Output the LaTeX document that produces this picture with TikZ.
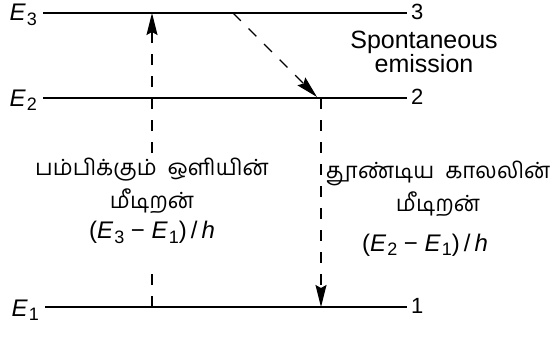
\documentclass[tikz,border=0pt]{standalone}
\usepackage{fontspec}
\setmainfont{Liberation Sans}
\newfontfamily\tamilfont[Script=Tamil]{Hind Madurai}
\usetikzlibrary{arrows.meta}
\tikzset{
  level/.style={line width=1.5pt},
  trans/.style={line width=1.4pt, dash pattern=on 11pt off 11pt, -{Stealth[length=22pt,width=11pt,inset=3pt]}},
  lbl/.style={font=\fontsize{24}{24}\selectfont, inner sep=0pt},
  num/.style={font=\fontsize{22}{24}\selectfont, inner sep=0pt, anchor=west},
  tam/.style={font=\tamilfont\fontsize{22.3}{33}\selectfont, align=center, inner sep=1pt},
}
\newcommand{\En}[1]{\textit{E}\kern1pt\raisebox{-0.35ex}{\fontsize{18}{18}\selectfont #1}}
\newcommand{\latin}{\normalfont\fontsize{24}{24}\selectfont}
\begin{document}
\begin{tikzpicture}[x=1pt,y=-1pt]
\useasboundingbox (0,0) rectangle (555,338);
% level end points
\coordinate (a3) at (43,13);  \coordinate (b3) at (407,13);
\coordinate (a2) at (43,98);  \coordinate (b2) at (407,98);
\coordinate (a1) at (45,307); \coordinate (b1) at (407,307);
\draw[level] (a3) -- (b3);
\draw[level] (a2) -- (b2);
\draw[level] (a1) -- (b1);
\node[lbl, anchor=east] (l3) at (37,15) {\En{3}};
\node[lbl, anchor=east] (l2) at (37,100) {\En{2}};
\node[lbl, anchor=east] (l1) at (39,310) {\En{1}};
\node[num] (n3) at (411,12) {3};
\node[num] (n2) at (411,97) {2};
\node[num] (n1) at (411,306) {1};
\node[font=\fontsize{25}{20}\selectfont, align=center, inner sep=0pt] (sp) at (424,52) {Spontaneous\\emission};
% transitions
\coordinate (u1) at (152,307); \coordinate (u3) at (152,13);
\coordinate (s3) at (233,13);  \coordinate (s2) at (317,97);
\coordinate (d2) at (321,98);  \coordinate (d1) at (321,307);
\draw[trans] (u1) -- (u3);
\draw[trans] (s3) -- (s2);
\draw[trans] (d2) -- (d1);
% labels
\node[tam, fill=white, anchor=north, inner ysep=0pt] (pump) at (152,158)
  {பம்பிக்கும்~~ஒளியின்\\மீடிறன்\\[-3pt]{\latin(\En{3} − \En{1})\,/\,\textit{h}}\hspace*{30pt}\\[-14pt]\strut};
\node[tam] (stim) at (438,189) {தூண்டிய~~காலலின்\\மீடிறன்};
\node[lbl] (sf) at (425,245) {(\En{2} − \En{1})\,/\,\textit{h}};
\end{tikzpicture}
\end{document}
